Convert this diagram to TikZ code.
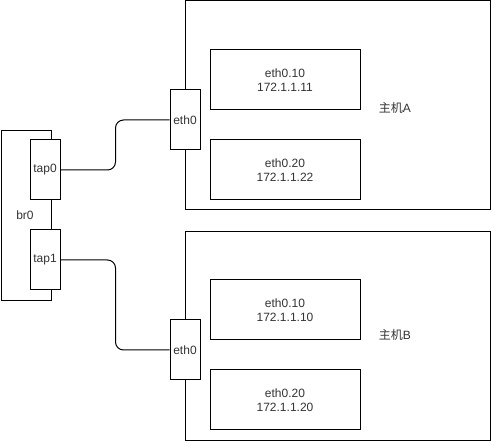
\documentclass[tikz,border=0pt]{standalone}
\usepackage{fontspec}
\setmainfont{Liberation Sans}
\newfontfamily\cjk{Noto Sans CJK SC}
\begin{document}
\begin{tikzpicture}[x=1pt,y=-1pt,
  box/.style={draw=black,line width=1pt,fill=white,inner sep=0pt},
  txt/.style={font=\fontsize{12}{14}\selectfont,align=center,text=black!80},
  conn/.style={draw=black,line width=1pt,rounded corners=8pt}]
\useasboundingbox (0,0) rectangle (491,441);
% hosts
\node[box,minimum width=305pt,minimum height=209pt,anchor=north west] (hostA) at (185,0.5) {};
\node[box,minimum width=305pt,minimum height=209pt,anchor=north west] (hostB) at (185,231) {};
\node[txt] (labA) at (395,108) {{\cjk 主机}A};
\node[txt] (labB) at (395,335) {{\cjk 主机}B};
% subinterfaces
\node[box,txt,minimum width=150pt,minimum height=60pt] (a10) at (285,80) {eth0.10\\172.1.1.11};
\node[box,txt,minimum width=150pt,minimum height=60pt] (a20) at (285,170) {eth0.20\\172.1.1.22};
\node[box,txt,minimum width=150pt,minimum height=60pt] (b10) at (285,310) {eth0.10\\172.1.1.10};
\node[box,txt,minimum width=150pt,minimum height=60pt] (b20) at (285,400) {eth0.20\\172.1.1.20};
% eth0
\node[box,txt,minimum width=30pt,minimum height=60pt] (ethA) at (185,120) {eth0};
\node[box,txt,minimum width=30pt,minimum height=60pt] (ethB) at (185,350) {eth0};
% bridge
\node[box,minimum width=50pt,minimum height=170pt,anchor=north west] (br) at (0.5,130) {};
\node[txt] (brlab) at (25,215) {br0};
\node[box,txt,minimum width=30pt,minimum height=60pt] (tap0) at (45,170) {tap0};
\node[box,txt,minimum width=30pt,minimum height=60pt] (tap1) at (45,260) {tap1};
% connectors
\draw[conn] (tap0.east) -- ++(55,0) |- (ethA.west);
\draw[conn] (tap1.east) -- ++(55,0) |- (ethB.west);
\end{tikzpicture}
\end{document}
